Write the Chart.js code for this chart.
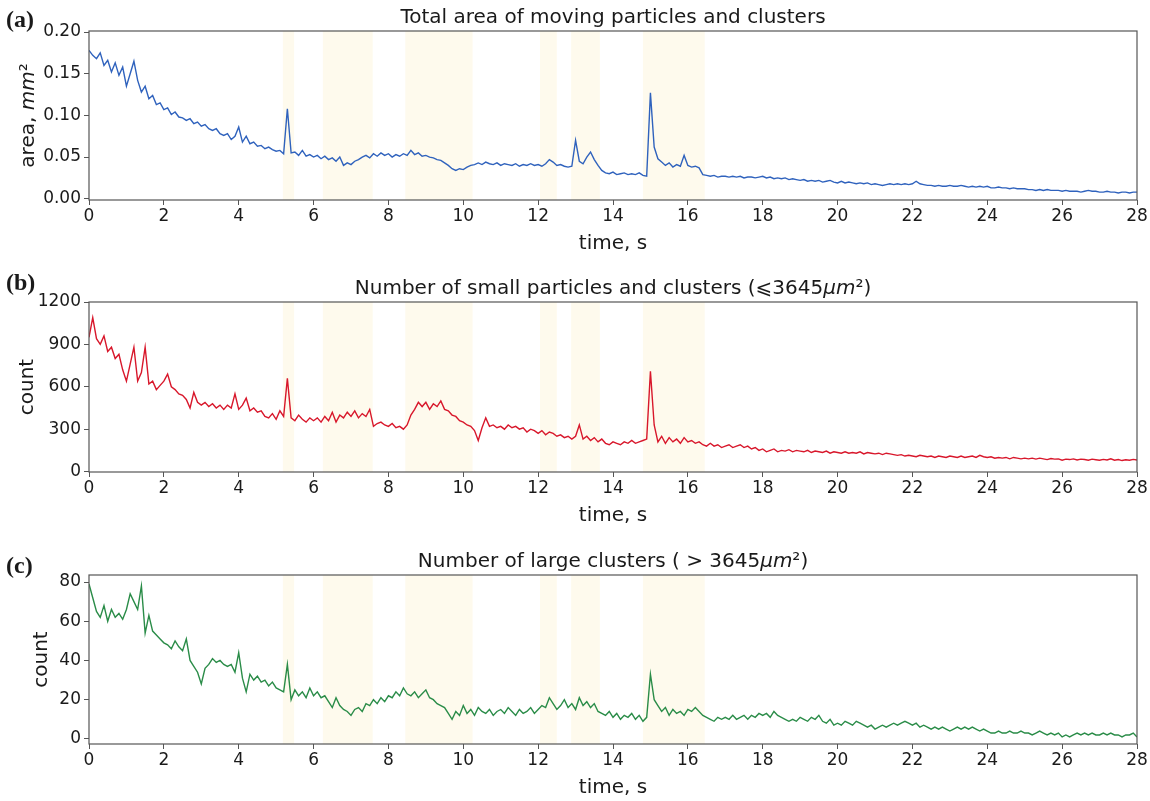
<!DOCTYPE html>
<html>
<head>
<meta charset="utf-8">
<script src="https://cdn.jsdelivr.net/npm/chart.js@4.4.1/dist/chart.umd.min.js"></script>
<style>
  html, body { margin: 0; padding: 0; background: #fff; overflow: hidden; }
  #wrap { position: relative; width: 1150px; height: 801px; }
  canvas { position: absolute; left: 0; }
</style>
</head>
<body>
<div id="wrap">
  <canvas id="cA" width="1150" height="262" style="top:0px"></canvas>
  <canvas id="cB" width="1150" height="263" style="top:271px"></canvas>
  <canvas id="cC" width="1150" height="262" style="top:544px"></canvas>
</div>
<script>
// sample times, 0.1 s apart, 0..28 s
const times = Array.from({ length: 281 }, (_, i) => +(i * 0.1).toFixed(1));

// (a) total area, mm^2
const areaValues = [
  .178,.172,.168,.175,.160,.166,.152,.163,.148,.158,
  .135,.150,.165,.142,.128,.135,.120,.124,.113,.115,
  .107,.109,.101,.104,.098,.097,.094,.096,.090,.092,
  .087,.089,.084,.082,.084,.078,.076,.078,.071,.075,
  .086,.068,.075,.066,.068,.063,.064,.060,.062,.059,
  .057,.058,.054,.108,.055,.056,.052,.058,.051,.053,
  .050,.052,.048,.051,.047,.049,.045,.050,.040,.043,
  .041,.045,.047,.050,.052,.049,.054,.051,.055,.052,
  .054,.050,.053,.051,.054,.052,.058,.053,.055,.051,
  .052,.050,.049,.047,.046,.043,.040,.036,.034,.036,
  .035,.038,.040,.041,.043,.041,.044,.042,.041,.043,
  .040,.042,.041,.040,.042,.039,.041,.040,.042,.040,
  .041,.039,.042,.047,.044,.040,.041,.039,.038,.039,
  .070,.045,.042,.050,.056,.047,.040,.034,.031,.030,
  .032,.029,.030,.031,.029,.030,.029,.031,.028,.027,
  .127,.062,.048,.044,.040,.043,.038,.041,.039,.052,
  .040,.038,.039,.037,.029,.028,.027,.028,.026,.027,
  .027,.026,.027,.026,.027,.025,.026,.026,.025,.026,
  .027,.025,.026,.024,.025,.024,.025,.023,.024,.023,
  .022,.023,.021,.022,.021,.022,.020,.021,.022,.020,
  .019,.021,.019,.020,.019,.018,.019,.018,.019,.017,
  .018,.017,.016,.017,.018,.017,.018,.017,.018,.017,
  .018,.021,.018,.017,.016,.016,.015,.016,.015,.015,
  .016,.015,.015,.016,.015,.014,.015,.014,.015,.014,
  .015,.013,.013,.014,.013,.013,.012,.013,.012,.012,
  .012,.011,.011,.010,.011,.010,.011,.010,.010,.010,
  .009,.010,.009,.009,.009,.008,.009,.010,.009,.009,
  .008,.008,.009,.008,.008,.007,.008,.008,.007,.008,
  .008
];

// (b) small particles and clusters, count
const smallValues = [
  950,1090,940,900,960,850,880,800,830,720,
  640,760,880,640,700,880,620,640,580,610,
  640,690,600,580,550,540,510,450,560,490,
  470,490,460,480,450,470,440,470,450,550,
  440,470,520,430,450,420,430,390,380,410,
  370,430,390,660,380,360,400,370,350,380,
  360,380,350,390,360,420,350,400,380,420,
  390,430,380,410,390,440,320,340,350,330,
  320,340,310,320,300,330,400,440,490,460,
  490,440,480,460,500,440,430,400,390,360,
  350,330,320,290,220,310,380,320,330,310,
  320,300,330,310,320,300,310,280,300,290,
  270,290,260,280,270,250,260,240,250,230,
  250,330,230,250,220,240,210,230,200,190,
  210,200,190,210,200,220,200,210,220,230,
  710,330,210,250,200,240,210,230,200,240,
  210,220,200,210,190,180,200,180,190,170,
  180,190,170,180,190,170,180,160,170,150,
  160,140,150,160,140,150,145,155,140,150,
  145,140,150,135,145,140,135,145,130,140,
  135,130,140,130,135,130,140,125,135,130,
  125,130,120,130,125,120,115,120,110,115,
  110,105,115,110,105,110,100,110,105,100,
  110,105,100,110,100,105,110,100,115,105,
  100,105,95,100,95,100,90,100,95,90,
  95,90,95,88,95,90,85,92,88,90,
  80,88,85,90,82,88,85,80,88,84,
  80,86,82,90,80,85,78,84,80,86,
  82
];

// (c) large clusters, count
const largeValues = [
  79,72,65,62,68,60,66,62,64,61,
  66,74,70,66,78,54,63,55,53,51,
  49,48,46,50,47,45,51,40,37,34,
  28,36,38,41,39,40,38,37,38,34,
  44,31,24,33,30,32,29,30,27,29,
  26,25,24,38,20,25,22,24,21,26,
  22,24,21,22,19,16,21,17,15,14,
  12,15,16,14,18,17,20,18,21,19,
  22,21,24,22,26,23,22,24,21,23,
  25,21,20,18,17,16,13,10,14,12,
  17,13,15,12,16,14,13,15,12,14,
  15,13,16,14,12,15,13,14,16,13,
  15,17,16,21,18,15,17,20,16,18,
  15,21,17,19,16,18,14,13,12,14,
  11,13,10,12,11,13,10,12,9,11,
  33,20,17,14,16,12,15,13,14,12,
  15,14,16,14,12,11,10,9,11,10,
  11,10,12,10,11,12,10,12,11,13,
  12,13,11,14,12,11,10,9,10,9,
  11,10,9,11,10,12,9,8,10,7,
  8,7,9,8,7,9,8,7,6,7,
  5,6,7,6,7,8,7,8,9,8,
  7,8,6,7,6,5,6,5,6,5,
  4,5,6,5,6,5,6,5,4,5,
  4,3,3,4,3,3,4,3,3,4,
  3,3,2,3,4,3,2,3,2,3,
  1,2,1,2,3,2,3,2,3,2,
  2,3,2,3,2,2,1,2,2,3,
  1
];

// shaded time intervals, s
const bandStart = [5.18, 6.25, 8.45, 12.05, 12.88, 14.8];
const bandEnd   = [5.48, 7.58, 10.25, 12.5, 13.65, 16.45];

const xTicks = [0, 2, 4, 6, 8, 10, 12, 14, 16, 18, 20, 22, 24, 26, 28];
const areaTicks = [0, 0.05, 0.10, 0.15, 0.20];
const smallTicks = [0, 300, 600, 900, 1200];
const largeTicks = [0, 20, 40, 60, 80];

const FONT = '"DejaVu Sans", sans-serif';

function fontFor(s, size) {
  return (s.it ? 'italic ' : '') + size + 'px ' + FONT;
}

function drawRich(ctx, segs, x, y, size) {
  let w = 0;
  segs.forEach(s => { ctx.font = fontFor(s, size); w += ctx.measureText(s.t).width; });
  let cx = x - w / 2;
  ctx.textAlign = 'left';
  ctx.textBaseline = 'alphabetic';
  segs.forEach(s => {
    ctx.font = fontFor(s, size);
    ctx.fillText(s.t, cx, y);
    cx += ctx.measureText(s.t).width;
  });
}

const panelDecor = {
  id: 'panelDecor',
  beforeDatasetsDraw(chart) {
    const { ctx, chartArea: a, scales: { x } } = chart;
    ctx.save();
    ctx.fillStyle = 'rgba(250, 228, 150, 0.17)';
    bandStart.forEach((s, i) => {
      const x0 = x.getPixelForValue(s);
      const x1 = x.getPixelForValue(bandEnd[i]);
      ctx.fillRect(x0, a.top, x1 - x0, a.bottom - a.top);
    });
    ctx.restore();
  },
  afterDraw(chart, args, o) {
    const { ctx, chartArea: a } = chart;
    ctx.save();
    // frame
    ctx.strokeStyle = '#555';
    ctx.lineWidth = 1.2;
    ctx.strokeRect(a.left, a.top, a.right - a.left, a.bottom - a.top);
    ctx.fillStyle = '#1a1a1a';
    const cx = (a.left + a.right) / 2;
    drawRich(ctx, o.title, cx, a.top - 8, 20);
    drawRich(ctx, [{ t: 'time, s' }], cx, a.bottom + 49, 20);
    ctx.save();
    ctx.translate(o.yLabelX, (a.top + a.bottom) / 2);
    ctx.rotate(-Math.PI / 2);
    drawRich(ctx, o.yLabel, 0, 0, 20);
    ctx.restore();
    ctx.font = 'bold 24px "Liberation Serif", serif';
    ctx.textAlign = 'left';
    ctx.textBaseline = 'alphabetic';
    ctx.fillText(o.letter, 6, o.letterY);
    ctx.restore();
  }
};

function makePanel(id, values, color, yMin, yMax, yTicks, fmt, decor) {
  new Chart(document.getElementById(id), {
    type: 'line',
    data: {
      datasets: [{
        data: times.map((t, i) => ({ x: t, y: values[i] })),
        borderColor: color,
        borderWidth: 1.4,
        pointRadius: 0,
        tension: 0,
        fill: false,
      }],
    },
    options: {
      responsive: false,
      animation: false,
      layout: { padding: { top: 31, right: 13, left: 0, bottom: 0 } },
      scales: {
        x: {
          type: 'linear',
          min: 0,
          max: 28,
          afterBuildTicks: (s) => { s.ticks = xTicks.map(v => ({ value: v })); },
          afterFit: (s) => { s.height = 62; },
          grid: { drawOnChartArea: false, tickLength: 5, color: '#555' },
          border: { display: false },
          ticks: { font: { family: FONT, size: 17 }, color: '#1a1a1a', padding: 1, maxRotation: 0 },
        },
        y: {
          min: yMin,
          max: yMax,
          afterBuildTicks: (s) => { s.ticks = yTicks.map(v => ({ value: v })); },
          afterFit: (s) => { s.width = 89; },
          grid: { drawOnChartArea: false, tickLength: 5, color: '#555' },
          border: { display: false },
          ticks: { font: { family: FONT, size: 17 }, color: '#1a1a1a', padding: 3, callback: fmt },
        },
      },
      plugins: {
        legend: { display: false },
        tooltip: { enabled: false },
        panelDecor: decor,
      },
    },
    plugins: [panelDecor],
  });
}

makePanel('cA', areaValues, '#2f62bd', -0.0015, 0.2012, areaTicks, v => v.toFixed(2), {
  title: [{ t: 'Total area of moving particles and clusters' }],
  yLabel: [{ t: 'area, ' }, { t: 'mm', it: true }, { t: '²' }],
  yLabelX: 34, letter: '(a)', letterY: 27,
});

makePanel('cB', smallValues, '#d8172b', -3, 1200, smallTicks, v => String(v), {
  title: [{ t: 'Number of small particles and clusters (⩽3645' }, { t: 'μm', it: true }, { t: '²)' }],
  yLabel: [{ t: 'count' }],
  yLabelX: 33, letter: '(b)', letterY: 19,
});

makePanel('cC', largeValues, '#2a8c48', -2.6, 83.6, largeTicks, v => String(v), {
  title: [{ t: 'Number of large clusters ( > 3645' }, { t: 'μm', it: true }, { t: '²)' }],
  yLabel: [{ t: 'count' }],
  yLabelX: 47, letter: '(c)', letterY: 29,
});
</script>
</body>
</html>
